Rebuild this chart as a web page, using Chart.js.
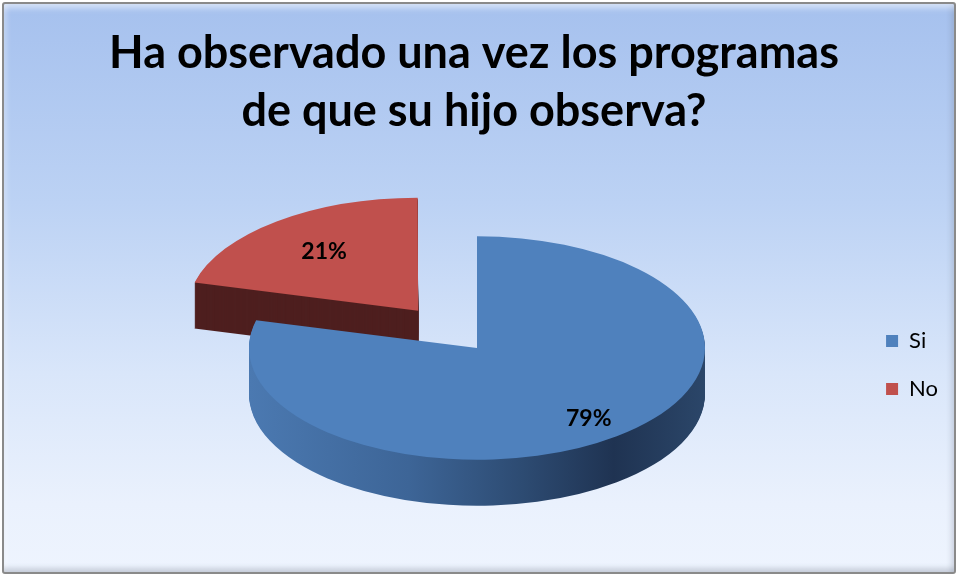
<!DOCTYPE html>
<html>
<head>
<meta charset="utf-8">
<script src="https://cdn.jsdelivr.net/npm/chart.js@4/dist/chart.umd.min.js"></script>
<style>
  html, body { margin: 0; padding: 0; background: #ffffff; }
  #frame { position: relative; width: 958px; height: 576px; }
  #bg {
    position: absolute; left: 2px; top: 2px; width: 954px; height: 572px;
    box-sizing: border-box; border: 2px solid #8a8a8a; border-radius: 3px;
    background: linear-gradient(to bottom, #a6c1ee 0%, #bcd2f4 35%, #d9e6fa 65%, #eaf1fd 88%, #eef4fe 100%);
    box-shadow: inset 0 8px 6px -4px rgba(255,255,255,0.55), inset 0 -7px 5px -3px rgba(90,100,120,0.25),
                inset 6px 0 5px -3px rgba(255,255,255,0.3), inset -6px 0 5px -3px rgba(90,100,120,0.2);
  }
  canvas { position: absolute; left: 0; top: 0; }
</style>
</head>
<body>
<div id="frame">
  <div id="bg"></div>
  <canvas id="chart" width="958" height="576"></canvas>
</div>
<script>
const titleLines = ["Ha observado una vez los programas", "de que su hijo observa?"];
const categories = ["Si", "No"];
const percentages = [79, 21];
const topColors = ["#4f81bd", "#c0504d"];
const explode = [0, 384];

// fake 3D: squash the pie and stack darker copies under it
const pie3d = {
  id: "pie3d",
  beforeDatasetsDraw(chart, args, opts) {
    const ctx = chart.ctx;
    const arcs = chart.getDatasetMeta(0).data;
    const c = arcs[0];
    ctx.save();
    ctx.translate(opts.cx, opts.cy);
    ctx.scale(1, opts.tilt);
    ctx.translate(-c.x, -c.y);

    const blueSide = ctx.createLinearGradient(c.x - c.outerRadius, 0, c.x + c.outerRadius, 0);
    blueSide.addColorStop(0, "#4b79b1");
    blueSide.addColorStop(0.35, "#3d6597");
    blueSide.addColorStop(0.6, "#2d4b72");
    blueSide.addColorStop(0.8, "#1f3352");
    blueSide.addColorStop(1, "#2b4669");
    const sides = [blueSide, "#4e1f1f"];

    for (let d = opts.depth; d > 0; d--) {
      for (let i = arcs.length - 1; i >= 0; i--) {
        const el = arcs[i];
        const ghost = Object.assign(Object.create(Object.getPrototypeOf(el)), el);
        ghost.options = Object.assign({}, el.options, { backgroundColor: sides[i], borderWidth: 0 });
        ctx.save();
        ctx.translate(0, d / opts.tilt);
        ghost.draw(ctx);
        ctx.restore();
      }
    }
  },
  afterDatasetsDraw(chart, args, opts) {
    const ctx = chart.ctx;
    ctx.restore();
    const arcs = chart.getDatasetMeta(0).data;
    ctx.save();
    ctx.font = "bold 23px Lato";
    ctx.fillStyle = "#000000";
    ctx.textAlign = "center";
    ctx.textBaseline = "middle";
    arcs.forEach((el, i) => {
      const mid = (el.startAngle + el.endAngle) / 2;
      const off = (el.options.offset || 0) / 4 * (2 - Math.sin(Math.min(Math.PI, el.circumference)));
      const r = off + el.outerRadius * opts.labelRadius[i];
      const x = opts.cx + Math.cos(mid) * r;
      const y = opts.cy + Math.sin(mid) * r * opts.tilt;
      ctx.fillText(percentages[i] + "%", x, y);
    });
    ctx.restore();
  }
};

new Chart(document.getElementById("chart"), {
  type: "pie",
  data: {
    labels: categories,
    datasets: [{
      data: percentages,
      backgroundColor: topColors,
      borderWidth: 0,
      offset: explode,
      clip: false
    }]
  },
  options: {
    responsive: false,
    animation: false,
    radius: 228,
    cutout: "0%",
    layout: { padding: { right: 10, bottom: 150 } },
    plugins: {
      title: {
        display: true,
        text: titleLines,
        color: "#000000",
        font: { family: "Lato", size: 45, weight: "bold", lineHeight: 1.3 },
        padding: { top: 24, bottom: 10 }
      },
      legend: {
        position: "right",
        align: "end",
        labels: {
          boxWidth: 12,
          boxHeight: 12,
          padding: 26,
          color: "#000000",
          font: { family: "Lato", size: 22 }
        }
      },
      tooltip: { enabled: false },
      pie3d: { cx: 477, cy: 348, tilt: 0.49, depth: 46, labelRadius: [0.8, 0.66] }
    }
  },
  plugins: [pie3d]
});
</script>
</body>
</html>
